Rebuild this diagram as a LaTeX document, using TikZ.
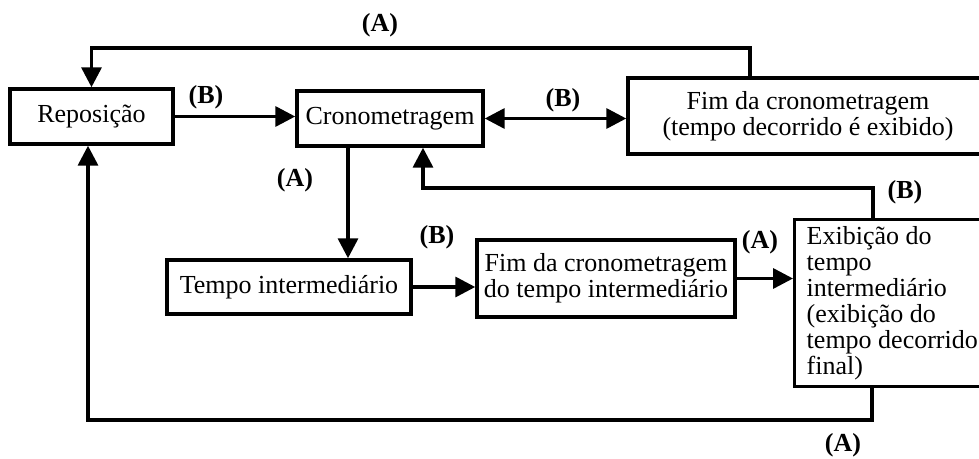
\documentclass[tikz,border=0pt]{standalone}
\usepackage{fontspec}
\setmainfont{Liberation Serif}
\usetikzlibrary{arrows.meta}

\tikzset{every picture/.style={line width=2.6pt},
  bloco/.style={draw, line width=2.6pt, inner sep=2pt, align=center, font=\fontsize{19.5}{19.5}\selectfont},
  rotulo/.style={inner sep=0pt, font=\bfseries\fontsize{19.5}{19.5}\selectfont},
  seta/.style={-{Triangle[length=15pt,width=15pt]}},
  dseta/.style={{Triangle[length=15pt,width=15pt]}-{Triangle[length=15pt,width=15pt]}}}

\begin{document}
\begin{tikzpicture}[x=0.75pt,y=0.75pt,yscale=-1,xscale=1]
  \useasboundingbox (0,0) rectangle (979,459);

  % Blocks
  \node [bloco, minimum width=122.25pt, minimum height=41.25pt] (repo) at (91.5,116.5) {Reposição};
  \node [bloco, minimum width=139.5pt, minimum height=41.25pt] (crono) at (390,118.5) {Cronometragem};
  \node [bloco, minimum width=270pt, minimum height=57pt] (fim) at (808,116) {Fim da cronometragem\\(tempo decorrido é exibido)};
  \node [bloco, minimum width=183pt, minimum height=40.5pt] (tempo) at (289,287) {Tempo intermediário};
  \node [bloco, minimum width=193.5pt, minimum height=57.75pt] (fimint) at (606,278.5) {Fim da cronometragem\\do tempo intermediário};
  \node [bloco, anchor=north west, align=flush left, text width=140pt, inner xsep=9pt, minimum height=125.25pt] (exib) at (793,218) {Exibição do\\tempo\\intermediário\\(exibição do\\tempo decorrido\\final)};

  % Corners of the return lines
  \coordinate (cA) at (750,48);
  \coordinate (cB) at (873,188);
  \coordinate (cB2) at (423,188);
  \coordinate (cT) at (348,200);
  \coordinate (cF) at (872,420);
  \coordinate (cF2) at (88,420);

  % Connectors
  \draw [seta] (fim.north -| cA) -- (cA) -| (repo.north);
  \draw [seta] (repo.east) -- (repo.east -| crono.west);
  \draw [dseta] (crono.east) -- (crono.east -| fim.west);
  \draw [seta] (exib.north -| cB) -- (cB) -- (cB2) -- (cB2 |- crono.south);
  \draw [seta] (cT |- crono.south) -- (cT |- tempo.north);
  \draw [seta] (tempo.east) -- (tempo.east -| fimint.west);
  \draw [seta] (fimint.east) -- (fimint.east -| exib.west);
  \draw [seta] (exib.south -| cF) -- (cF) -- (cF2) -- (cF2 |- repo.south);

  % Labels
  \node [rotulo] (lA1) at (380,25) {(A)};
  \node [rotulo] (lB1) at (206,97) {(B)};
  \node [rotulo] (lB2) at (563,100) {(B)};
  \node [rotulo] (lA2) at (295,180) {(A)};
  \node [rotulo] (lB3) at (905,192) {(B)};
  \node [rotulo] (lB4) at (437,237) {(B)};
  \node [rotulo] (lA3) at (760,242) {(A)};
  \node [rotulo] (lA4) at (843,445) {(A)};

\end{tikzpicture}
\end{document}
